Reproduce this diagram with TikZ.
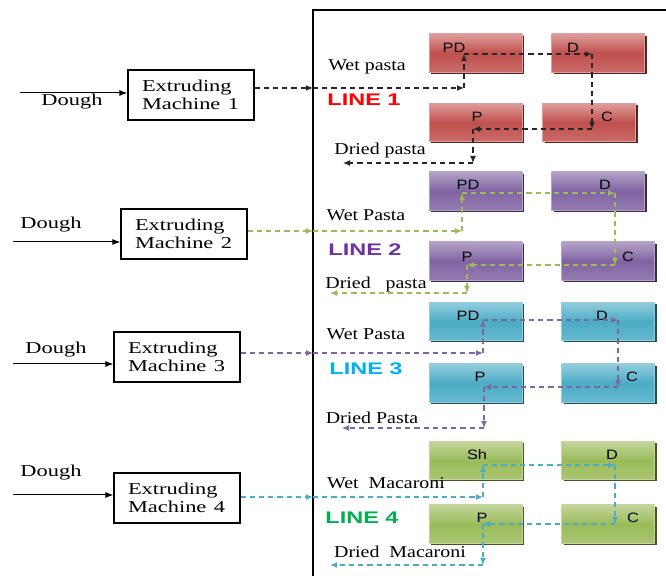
\documentclass[tikz,border=0pt]{standalone}
\usepackage{fontspec}
\setmainfont{Liberation Serif}
\newfontfamily\boxfont{Liberation Sans}
\usetikzlibrary{arrows.meta,shadows}
\definecolor{redb}{HTML}{C0504D}\definecolor{redl}{HTML}{DE9C9A}
\definecolor{purb}{HTML}{8064A2}\definecolor{purl}{HTML}{B3A2C7}
\definecolor{cyab}{HTML}{4BACC6}\definecolor{cyal}{HTML}{93CDDD}
\definecolor{grnb}{HTML}{9BBB59}\definecolor{grnl}{HTML}{C3D69B}
\definecolor{lred}{HTML}{FF0000}\definecolor{lpur}{HTML}{7030A0}
\definecolor{lcya}{HTML}{00B0F0}\definecolor{lgrn}{HTML}{00B050}
\begin{document}
\begin{tikzpicture}[x=0.5pt,y=-0.5pt,
  stage/.style 2 args={rectangle,minimum width=46.5pt,minimum height=19pt,inner sep=0pt,
    draw=#2,line width=0.4pt,top color=#2,bottom color=#1!85!white,middle color=#1,
    drop shadow={shadow xshift=1pt,shadow yshift=-1pt,fill=#1!45!black,opacity=1}},
  tag/.style={inner sep=0pt,xscale=1.2,font=\boxfont\fontsize{6.8}{7}\selectfont},
  linetag/.style={inner sep=0pt,xscale=1.4,font=\boxfont\bfseries\fontsize{8.4}{9}\selectfont,text=#1},
  prod/.style={inner sep=0pt,xscale=1.2,font=\fontsize{8.3}{9}\selectfont},
  mach/.style={draw,line width=0.6pt,minimum width=63pt,minimum height=25pt,text width=49pt,
    inner xsep=7pt,align=left,font=\fontsize{8.3}{9}\selectfont},
  feed/.style={inner sep=0pt,xscale=1.35,font=\fontsize{8.3}{9}\selectfont},
  flow/.style={dashed,dash pattern=on 2.6pt off 2pt,line width=0.6pt,draw=#1,
    -{Latex[length=3.5pt,width=3pt,fill=#1]}},
  dough/.style={line width=0.5pt,-{Latex[length=4pt,width=3pt]}}]
\useasboundingbox (0,0) rectangle (666,576);
\draw[line width=0.75pt] (313,576) -- (313,10) -- (666,10);

\node[mach] (m1) at (191,95) {\makebox[0pt][l]{\scalebox{1.35}[1]{Extruding}}\\\makebox[0pt][l]{\scalebox{1.35}[1]{Machine 1}}};
\node[mach] (m2) at (184,234) {\makebox[0pt][l]{\scalebox{1.35}[1]{Extruding}}\\\makebox[0pt][l]{\scalebox{1.35}[1]{Machine 2}}};
\node[mach] (m3) at (177,357) {\makebox[0pt][l]{\scalebox{1.35}[1]{Extruding}}\\\makebox[0pt][l]{\scalebox{1.35}[1]{Machine 3}}};
\node[mach] (m4) at (177,498) {\makebox[0pt][l]{\scalebox{1.35}[1]{Extruding}}\\\makebox[0pt][l]{\scalebox{1.35}[1]{Machine 4}}};
\coordinate (s1) at (20,93);
\coordinate (s2) at (13,242);
\coordinate (s3) at (13,364);
\coordinate (s4) at (13,495);
\draw[dough] (s1) -- (s1 -| m1.west);
\draw[dough] (s2) -- (s2 -| m2.west);
\draw[dough] (s3) -- (s3 -| m3.west);
\draw[dough] (s4) -- (s4 -| m4.west);
\node[feed] (dg1) at (72,102) {Dough};
\node[feed] (dg2) at (51,225) {Dough};
\node[feed] (dg3) at (56,350) {Dough};
\node[feed] (dg4) at (51,473) {Dough};

% line 1
\node[stage={redb}{redl}] (pd1) at (475.5,53) {};
\node[stage={redb}{redl}] (dr1) at (598,53) {};
\node[stage={redb}{redl}] (pk1) at (475.5,122.5) {};
\node[stage={redb}{redl}] (co1) at (589,122.5) {};
\node[tag] (pd1t) at (454,48) {PD};
\node[tag] (dr1t) at (573,48) {D};
\node[tag] (pk1t) at (477,117) {P};
\node[tag] (co1t) at (607,117) {C};
\node[prod] (wet1) at (367,67) {Wet pasta};
\node[linetag=lred] (l1) at (364,100) {LINE 1};
\node[prod] (dry1) at (380,151) {Dried pasta};
\coordinate (e1) at (313,88); \coordinate (w1) at (464,88);
\coordinate (a1) at (464,54); \coordinate (b1) at (592,54);
\coordinate (c1) at (592,129); \coordinate (d1) at (473,129);
\coordinate (f1) at (473,163); \coordinate (g1) at (343,163);
\draw[flow=black!85] (e1 -| m1.east) -- (e1);
\draw[flow=black!85] (e1) -- (w1);
\draw[flow=black!85] (w1) -- (a1);
\draw[flow=black!85] (a1) -- (b1);
\draw[flow=black!85] (b1) -- (c1);
\draw[flow=black!85] (c1) -- (d1);
\draw[flow=black!85] (d1) -- (f1);
\draw[flow=black!85] (f1) -- (g1);

% line 2
\node[stage={purb}{purl}] (pd2) at (475.5,191) {};
\node[stage={purb}{purl}] (dr2) at (598,191) {};
\node[stage={purb}{purl}] (pk2) at (475.5,261) {};
\node[stage={purb}{purl}] (co2) at (608,261) {};
\node[tag] (pd2t) at (468,185) {PD};
\node[tag] (dr2t) at (605,185) {D};
\node[tag] (pk2t) at (467,257) {P};
\node[tag] (co2t) at (628,257) {C};
\node[prod] (wet2) at (366,215) {Wet Pasta};
\node[linetag=lpur] (l2) at (365,250) {LINE 2};
\node[prod] (dry2) at (376,285) {Dried\ \ \ pasta};
\coordinate (e2) at (313,231); \coordinate (w2) at (462,231);
\coordinate (a2) at (462,193); \coordinate (b2) at (615,193);
\coordinate (c2) at (615,265); \coordinate (d2) at (467,265);
\coordinate (f2) at (467,293); \coordinate (g2) at (330,293);
\draw[flow=grnb] (e2 -| m2.east) -- (e2);
\draw[flow=grnb] (e2) -- (w2);
\draw[flow=grnb] (w2) -- (a2);
\draw[flow=grnb] (a2) -- (b2);
\draw[flow=grnb] (b2) -- (c2);
\draw[flow=grnb] (c2) -- (d2);
\draw[flow=grnb] (d2) -- (f2);
\draw[flow=grnb] (f2) -- (g2);

% line 3
\node[stage={cyab}{cyal}] (pd3) at (475.5,321.5) {};
\node[stage={cyab}{cyal}] (dr3) at (608,321.5) {};
\node[stage={cyab}{cyal}] (pk3) at (475.5,383) {};
\node[stage={cyab}{cyal}] (co3) at (608,383) {};
\node[tag] (pd3t) at (468,316) {PD};
\node[tag] (dr3t) at (602,316) {D};
\node[tag] (pk3t) at (480,377) {P};
\node[tag] (co3t) at (632,377) {C};
\node[prod] (wet3) at (366,334) {Wet Pasta};
\node[linetag=lcya] (l3) at (366,369) {LINE 3};
\node[prod] (dry3) at (372,418) {Dried Pasta};
\coordinate (e3) at (313,353); \coordinate (w3) at (483,353);
\coordinate (a3) at (483,320); \coordinate (b3) at (618,320);
\coordinate (c3) at (618,387); \coordinate (d3) at (484,387);
\coordinate (f3) at (484,428); \coordinate (g3) at (342,428);
\draw[flow=purb] (e3 -| m3.east) -- (e3);
\draw[flow=purb] (e3) -- (w3);
\draw[flow=purb] (w3) -- (a3);
\draw[flow=purb] (a3) -- (b3);
\draw[flow=purb] (b3) -- (c3);
\draw[flow=purb] (c3) -- (d3);
\draw[flow=purb] (d3) -- (f3);
\draw[flow=purb] (f3) -- (g3);

% line 4
\node[stage={grnb}{grnl}] (sh4) at (475.5,460.5) {};
\node[stage={grnb}{grnl}] (dr4) at (608,460.5) {};
\node[stage={grnb}{grnl}] (pk4) at (475.5,524) {};
\node[stage={grnb}{grnl}] (co4) at (608,524) {};
\node[tag] (sh4t) at (477,455) {Sh};
\node[tag] (dr4t) at (612,455) {D};
\node[tag] (pk4t) at (482,518) {P};
\node[tag] (co4t) at (633,518) {C};
\node[prod] (wet4) at (386,483) {Wet\ \ Macaroni};
\node[linetag=lgrn] (l4) at (362,518) {LINE 4};
\node[prod] (dry4) at (400,552) {Dried\ \ Macaroni};
\coordinate (e4) at (313,497); \coordinate (w4) at (483,497);
\coordinate (a4) at (483,465); \coordinate (b4) at (615,465);
\coordinate (c4) at (615,524); \coordinate (d4) at (483,524);
\coordinate (f4) at (483,565); \coordinate (g4) at (330,565);
\draw[flow=cyab] (e4 -| m4.east) -- (e4);
\draw[flow=cyab] (e4) -- (w4);
\draw[flow=cyab] (w4) -- (a4);
\draw[flow=cyab] (a4) -- (b4);
\draw[flow=cyab] (b4) -- (c4);
\draw[flow=cyab] (c4) -- (d4);
\draw[flow=cyab] (d4) -- (f4);
\draw[flow=cyab] (f4) -- (g4);
\end{tikzpicture}
\end{document}
